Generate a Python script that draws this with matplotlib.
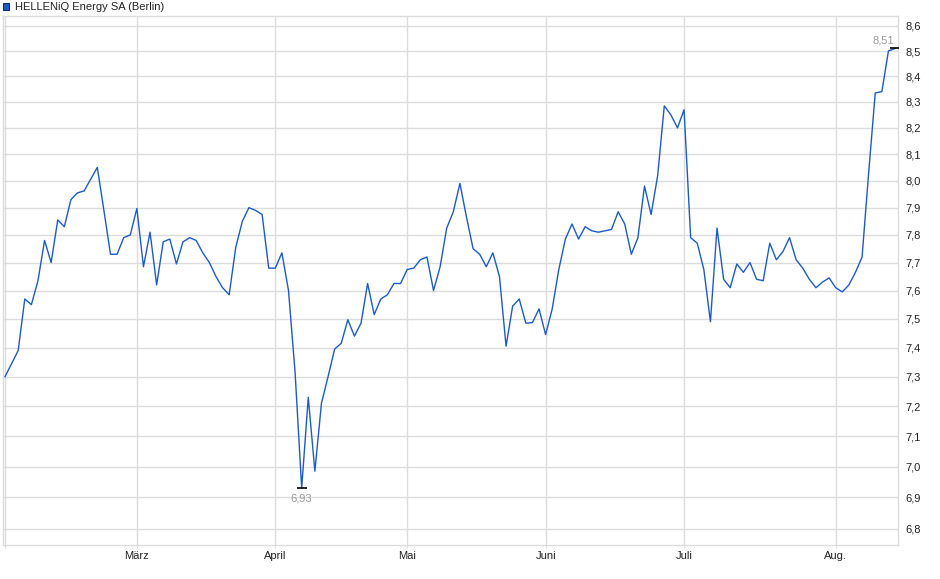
import numpy as np
import matplotlib
matplotlib.use("Agg")
import matplotlib.pyplot as plt
from matplotlib.ticker import FixedLocator, FuncFormatter, NullLocator

plt.rcParams['font.family'] = ['Liberation Sans', 'DejaVu Sans']

# daily closing prices (EUR)
close = [
    7.30, 7.345, 7.39, 7.57, 7.55, 7.635, 7.78, 7.70, 7.855, 7.83,
    7.93, 7.955, 7.962, 8.006, 8.05, 7.89, 7.73, 7.73, 7.79, 7.80,
    7.897, 7.685, 7.81, 7.62, 7.775, 7.785, 7.695, 7.775, 7.79, 7.78,
    7.735, 7.70, 7.65, 7.61, 7.585, 7.755, 7.85, 7.90, 7.89, 7.875,
    7.68, 7.68, 7.735, 7.60, 7.315, 6.93, 7.23, 6.985, 7.21, 7.30,
    7.395, 7.415, 7.497, 7.44, 7.485, 7.625, 7.515, 7.57, 7.585, 7.625,
    7.625, 7.675, 7.68, 7.71, 7.72, 7.60, 7.685, 7.825, 7.885, 7.99,
    7.865, 7.75, 7.73, 7.685, 7.735, 7.65, 7.405, 7.545, 7.57, 7.485,
    7.487, 7.535, 7.445, 7.535, 7.675, 7.785, 7.84, 7.785, 7.83, 7.815,
    7.81, 7.815, 7.82, 7.885, 7.84, 7.73, 7.79, 7.98, 7.875, 8.02,
    8.285, 8.25, 8.20, 8.27, 7.79, 7.77, 7.675, 7.49, 7.825, 7.64,
    7.61, 7.695, 7.665, 7.70, 7.64, 7.635, 7.77, 7.71, 7.74, 7.79,
    7.71, 7.68, 7.64, 7.61, 7.63, 7.645, 7.61, 7.595, 7.62, 7.665,
    7.72, 8.03, 8.335, 8.34, 8.50, 8.51,
]

# first trading day of each month, as index into close
month_idx = [20, 41, 61, 82, 103, 126]
month_labels = ["März", "April", "Mai", "Juni", "Juli", "Aug."]

y_ticks = np.round(np.arange(68, 87) / 10, 1)

line_col = '#1c5bc6'
grid_col = '#dcdcdc'

x = np.arange(len(close))
fig = plt.figure(figsize=(9.4, 5.79), dpi=100)
ax = fig.add_axes([0.00287, 0.0587, 0.9528, 0.9136])

ax.plot(x, close, color=line_col, lw=1.0, zorder=3)

ax.set_yscale('log')
ax.set_ylim(6.748, 8.640)
ax.set_xlim(-0.35, len(close) - 1 + 0.5)

ax.yaxis.set_major_locator(FixedLocator(y_ticks))
ax.yaxis.set_minor_locator(NullLocator())
ax.yaxis.set_major_formatter(FuncFormatter(lambda v, p: f"{v:.1f}".replace('.', ',')))
ax.yaxis.tick_right()
ax.tick_params(axis='y', length=0, pad=5, labelsize=8, labelcolor='#222222')

ax.set_xticks([0] + month_idx, [''] + month_labels)
ax.tick_params(axis='x', length=2, color=grid_col, pad=2, labelsize=8,
               labelcolor='#222222')

ax.grid(True, color=grid_col, lw=1)
ax.set_axisbelow(True)
for s in ax.spines.values():
    s.set_color(grid_col)
    s.set_linewidth(1)

# min / max markers
i_min = int(np.argmin(close))
i_max = int(np.argmax(close))
ax.plot([i_min], [close[i_min]], marker='_', ms=7, mew=1.2, color='black', zorder=4)
ax.plot([i_max], [close[i_max]], marker='_', ms=7, mew=1.2, color='black', zorder=4)
ax.annotate(f"{close[i_min]:.2f}".replace('.', ','), (i_min, close[i_min]),
            xytext=(0, -4), textcoords='offset points', ha='center', va='top',
            fontsize=8, color='#9a9a9a')
ax.annotate(f"{close[i_max]:.2f}".replace('.', ','), (i_max, close[i_max]),
            xytext=(-1, 2), textcoords='offset points', ha='right', va='bottom',
            fontsize=8, color='#9a9a9a')

# legend line at the top
fig.patches.append(plt.Rectangle((2.5 / 940, 1 - 9.5 / 579), 6 / 940, 6 / 579,
                                 transform=fig.transFigure, facecolor=line_col,
                                 edgecolor='#0d2f70', lw=0.8))
fig.text(15 / 940, 1 - 6.5 / 579, "HELLENiQ Energy SA (Berlin)", fontsize=8,
         color='#222222', va='center', ha='left')

fig.savefig("out.png", dpi=100)
